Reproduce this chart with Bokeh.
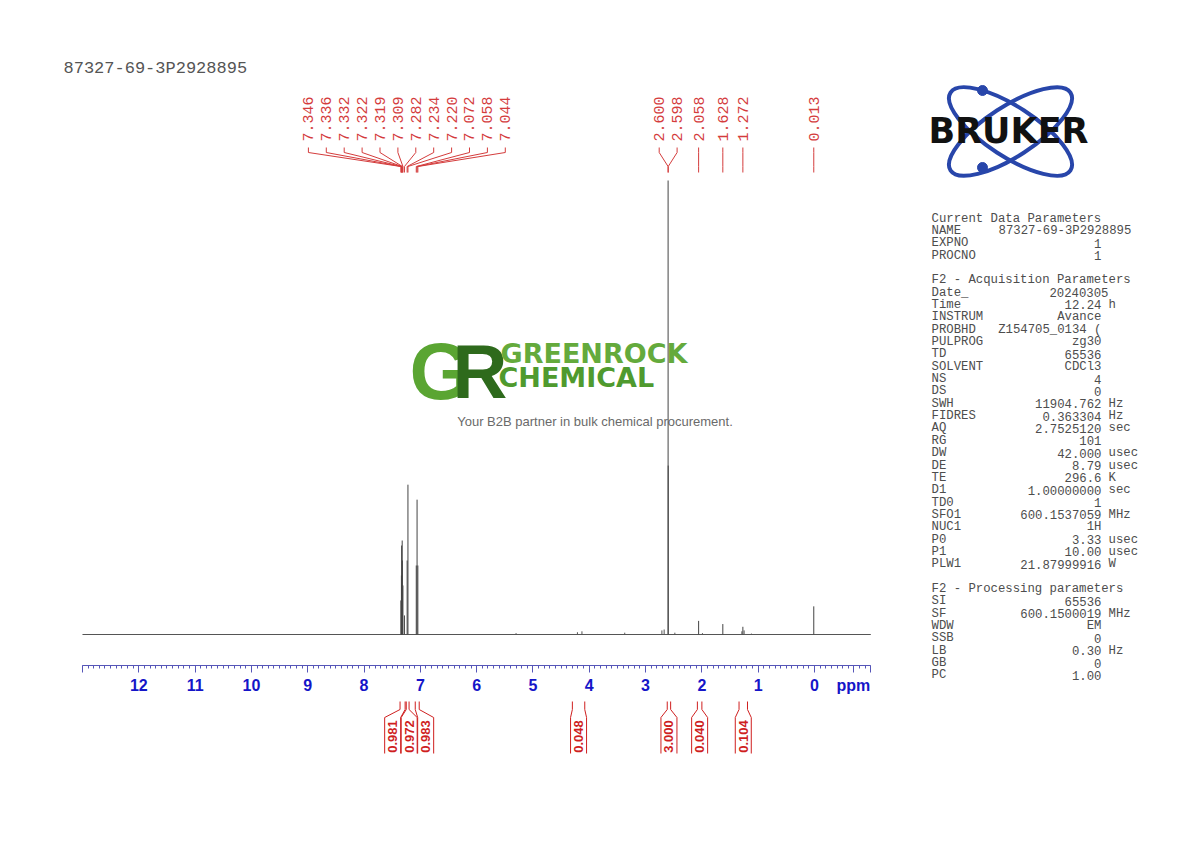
import numpy as np
from bokeh.plotting import figure
from bokeh.models import Range1d, FixedTicker
from bokeh.layouts import row, column
from bokeh.core.properties import value
from bokeh.embed import file_html
from bokeh.resources import INLINE

sample_name = "87327-69-3P2928895"

# labelled lines (ppm) and heights relative to the tallest line (=100)
peak_ppm = [7.346, 7.336, 7.332, 7.322, 7.319, 7.309, 7.282, 7.234, 7.220,
            7.072, 7.058, 7.044, 2.600, 2.598, 2.058, 1.628, 1.272, 0.013]
peak_height = [7.5, 13.0, 19.6, 20.7, 16.3, 10.8, 4.2, 16.3, 33.0,
               15.2, 29.7, 15.2, 100.0, 37.2, 3.0, 2.3, 1.7, 6.2]

# small unlabelled lines
minor_ppm = [5.30, 4.21, 4.13, 3.37, 2.71, 2.67, 2.48, 1.99, 1.29, 1.25, 1.12]
minor_height = [0.3, 0.5, 0.7, 0.4, 0.9, 1.1, 0.4, 0.3, 0.7, 0.9, 0.2]

spectral_window = [13.0, -1.0]

integral_start = [7.36, 7.25, 7.09, 4.30, 2.615, 2.08, 1.34]
integral_end = [7.27, 7.20, 7.02, 4.08, 2.555, 2.00, 1.19]
integral_value = ["0.981", "0.972", "0.983", "0.048", "3.000", "0.040", "0.104"]

axis_ticks = list(range(-1, 14))
unit_label = "ppm"

current_names = ["NAME", "EXPNO", "PROCNO"]
current_values = ["87327-69-3P2928895", "1", "1"]

acq_names = ["Date_", "Time", "INSTRUM", "PROBHD", "PULPROG", "TD", "SOLVENT",
             "NS", "DS", "SWH", "FIDRES", "AQ", "RG", "DW", "DE", "TE", "D1",
             "TD0", "SFO1", "NUC1", "P0", "P1", "PLW1"]
acq_values = ["20240305", "12.24", "Avance", "Z154705_0134 (", "zg30", "65536",
              "CDCl3", "4", "0", "11904.762", "0.363304", "2.7525120", "101",
              "42.000", "8.79", "296.6", "1.00000000", "1", "600.1537059", "1H",
              "3.33", "10.00", "21.87999916"]
acq_units = ["", "h", "", "", "", "", "", "", "", "Hz", "Hz", "sec", "", "usec",
             "usec", "K", "sec", "", "MHz", "", "usec", "usec", "W"]

proc_names = ["SI", "SF", "WDW", "SSB", "LB", "GB", "PC"]
proc_values = ["65536", "600.1500019", "EM", "0", "0.30", "0", "1.00"]
proc_units = ["", "MHz", "", "", "Hz", "", ""]

# ---- page geometry (page pixels) ----
ZERO_X = 814.0       # page x of 0 ppm
PX_PER_PPM = 56.31
BASE_Y = 634.0       # baseline of spectrum
TOP_Y = 180.0        # page y of the tallest line
AXIS_Y = 665.0
LEFT_W = 900
RIGHT_W = 282
PAGE_H = 834
BOTTOM_TOP = 695.0   # page y where the integral strip starts

RED = "#d43c3c"
INT_RED = "#cf1f1f"
BLUE = "#1515c8"
AXIS_COL = "#5656b8"
MONO = "Liberation Mono"


def px2ppm(x):
    return (ZERO_X - x) / PX_PER_PPM


def spread(centers, gap):
    # cluster labels that would collide and space them evenly round the cluster mean
    groups = []
    for c in centers:
        if groups and groups[-1][-1] - c < gap:
            groups[-1].append(c)
        else:
            groups.append([c])
    out = []
    for g in groups:
        m = sum(g) / len(g)
        n = len(g)
        out += [m + (n - 1) / 2 * gap - i * gap for i in range(n)]
    return out


x_rng = Range1d(px2ppm(0), px2ppm(LEFT_W))
scale = 100.0 / (BASE_Y - TOP_Y)

# ---------------- spectrum ----------------
fa = figure(frame_width=LEFT_W, frame_height=int(AXIS_Y), x_range=x_rng,
            y_range=Range1d(AXIS_Y, 0), output_backend="svg", toolbar_location=None,
            y_axis_location=None, min_border_left=0, min_border_right=0,
            min_border_top=0, min_border_bottom=int(BOTTOM_TOP - AXIS_Y),
            outline_line_color=None, background_fill_color="white",
            border_fill_color="white")
fa.grid.visible = False
fa.extra_y_ranges = {"intensity": Range1d(-(AXIS_Y - BASE_Y) * scale, BASE_Y * scale)}

# the unit name sits on the axis, just left of its right end
ppm_pos = round(px2ppm(853), 2)
ax = fa.xaxis[0]
ax.ticker = FixedTicker(ticks=axis_ticks + [ppm_pos],
                        minor_ticks=[round(v, 1) for v in np.arange(-1.0, 13.001, 0.1)])
ax.major_label_overrides = {13: "", -1: "", ppm_pos: unit_label}
ax.bounds = (spectral_window[1], spectral_window[0])
ax.axis_line_color = AXIS_COL
ax.major_tick_line_color = AXIS_COL
ax.minor_tick_line_color = AXIS_COL
ax.major_tick_in = 0
ax.major_tick_out = 7
ax.minor_tick_in = 0
ax.minor_tick_out = 3
ax.major_label_standoff = 4
ax.major_label_text_font = "Liberation Sans"
ax.major_label_text_font_style = "bold"
ax.major_label_text_font_size = "16px"
ax.major_label_text_color = BLUE

# title
fa.text(x=[px2ppm(63)], y=[68], text=[sample_name], text_font=value(MONO),
        text_font_size="17px", text_color="#555555", text_align="left",
        text_baseline="middle")

# watermark logo
fa.text(x=[px2ppm(409)], y=[371], text=["G"], text_font=value("Liberation Sans"),
        text_font_style="bold", text_font_size="80px", text_color="#5aa532",
        text_align="left", text_baseline="middle")
fa.text(x=[px2ppm(452)], y=[370.5], text=["R"], text_font=value("Liberation Sans"),
        text_font_style="bold", text_font_size="76px", text_color="#2e6a1c",
        text_align="left", text_baseline="middle")
fa.text(x=[px2ppm(500)], y=[353], text=["GREENROCK"], text_font=value("DejaVu Sans"),
        text_font_style="bold", text_font_size="27px", text_color="#64aa3c",
        text_align="left", text_baseline="middle")
fa.text(x=[px2ppm(498)], y=[376.5], text=["CHEMICAL"], text_font=value("DejaVu Sans"),
        text_font_style="bold", text_font_size="27px", text_color="#4f9a2e",
        text_align="left", text_baseline="middle")
fa.text(x=[px2ppm(594.5)], y=[421], text=["Your B2B partner in bulk chemical procurement."],
        text_font=value("Liberation Sans"), text_font_size="13px", text_color="#6a6a6a",
        text_align="center", text_baseline="middle")

# spectrum as baseline plus line sticks
fa.line(x=spectral_window, y=[0, 0], line_color="#555555", line_width=1,
        y_range_name="intensity")
fa.segment(x0=minor_ppm, y0=[0] * len(minor_ppm), x1=minor_ppm, y1=minor_height,
           line_color="#555555", line_width=1, y_range_name="intensity")
fa.segment(x0=peak_ppm, y0=[0] * len(peak_ppm), x1=peak_ppm, y1=peak_height,
           line_color="#444444", line_width=1, y_range_name="intensity")

# peak labels
label_x = spread(peak_ppm, 17.9 / PX_PER_PPM)
fa.multi_line(xs=[[lx, lx, px, px] for lx, px in zip(label_x, peak_ppm)],
              ys=[[147, 152, 166, 172]] * len(peak_ppm), line_color=RED, line_width=1)
fa.text(x=label_x, y=[141] * len(peak_ppm), text=[f"{v:.3f}" for v in peak_ppm],
        angle=np.pi / 2, text_font=value(MONO), text_font_size="15px",
        text_color=RED, text_align="left", text_baseline="middle")

# ---------------- integrals ----------------
fb = figure(width=LEFT_W, height=int(PAGE_H - BOTTOM_TOP), x_range=x_rng,
            y_range=Range1d(PAGE_H, BOTTOM_TOP), output_backend="svg",
            toolbar_location=None, x_axis_location=None, y_axis_location=None,
            min_border=0, outline_line_color=None,
            background_fill_color="white", border_fill_color="white")
fb.grid.visible = False

centers = [(s + e) / 2 for s, e in zip(integral_start, integral_end)]
box_x = spread(centers, 16.5 / PX_PER_PPM)
hw = 8.0 / PX_PER_PPM
xs, ys = [], []
for s, e, b in zip(integral_start, integral_end, box_x):
    xs += [[s, s, b + hw, b + hw], [e, e, b - hw, b - hw]]
    ys += [[700, 708, 716, 752]] * 2
fb.multi_line(xs=xs, ys=ys, line_color=INT_RED, line_width=1)
fb.text(x=box_x, y=[735] * len(box_x), text=integral_value, angle=np.pi / 2,
        text_font=value("Liberation Sans"), text_font_style="bold",
        text_font_size="13px", text_color=INT_RED, text_align="center",
        text_baseline="middle")

# ---------------- parameter panel ----------------
fc = figure(width=RIGHT_W, height=PAGE_H, x_range=Range1d(LEFT_W, LEFT_W + RIGHT_W),
            y_range=Range1d(PAGE_H, 0), output_backend="svg", toolbar_location=None,
            x_axis_location=None, y_axis_location=None, min_border=0,
            outline_line_color=None, background_fill_color="white",
            border_fill_color="white")
fc.grid.visible = False

# Bruker logo
fc.ellipse(x=[1010, 1010], y=[131, 131], width=143, height=50, angle=[0.576, -0.576],
           fill_color=None, line_color="#2846aa", line_width=4)
fc.scatter(x=[982, 982], y=[90, 167], size=10, color="#2846aa")
fc.text(x=[1008], y=[130], text=["BRUKER"], text_font=value("DejaVu Sans"),
        text_font_style="bold", text_font_size="35px", text_color="#111111",
        text_align="center", text_baseline="middle")

LINE0, PITCH = 218.0, 12.35
NAME_X, VAL_X, UNIT_X = 931, 1101, 1108
val_edge = {"NAME": (998, "left"), "Date_": (1108, "right")}

header_rows = [0, 5, 30]
headers = ["Current Data Parameters", "F2 - Acquisition Parameters",
           "F2 - Processing parameters"]
blocks = [(1, current_names, current_values, [""] * len(current_names)),
          (6, acq_names, acq_values, acq_units),
          (31, proc_names, proc_values, proc_units)]

style = dict(text_font=value(MONO), text_font_size="12.3px", text_color="#4d4d4d",
             text_baseline="middle")
fc.text(x=[NAME_X] * 3, y=[LINE0 + r * PITCH for r in header_rows], text=headers,
        text_align="left", **style)
for start, names, vals, units in blocks:
    yy = [LINE0 + (start + i) * PITCH for i in range(len(names))]
    fc.text(x=[NAME_X] * len(names), y=yy, text=names, text_align="left", **style)
    for y, n, v in zip(yy, names, vals):
        ex, al = val_edge.get(n, (VAL_X, "right"))
        fc.text(x=[ex], y=[y], text=[v], text_align=al, **style)
    uy = [y for y, u in zip(yy, units) if u]
    ut = [u for u in units if u]
    if ut:
        fc.text(x=[UNIT_X] * len(ut), y=uy, text=ut, text_align="left", **style)

layout = row(column(fa, fb), fc)
open("out.html", "w").write(file_html(layout, INLINE))
